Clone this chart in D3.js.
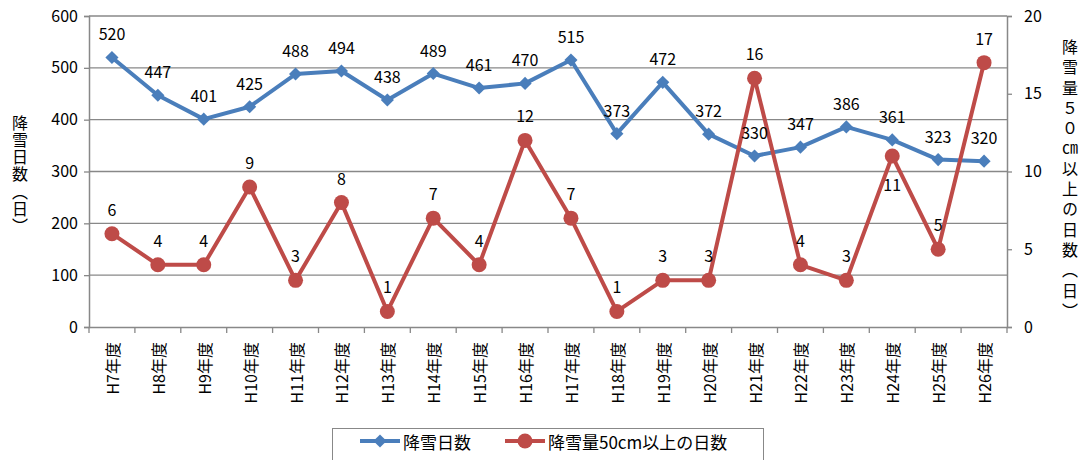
<!DOCTYPE html>
<html><head><meta charset="utf-8">
<script src="https://cdn.jsdelivr.net/npm/d3@7"></script>
<style>
body{margin:0;background:#fff;}
text{font-family:"Noto Sans CJK JP","Noto Sans",sans-serif;fill:#000;}
.vt{writing-mode:vertical-rl;text-orientation:upright;}
</style></head>
<body><svg id="c" width="1082" height="460"></svg>
<script>
const categories=["H7年度","H8年度","H9年度","H10年度","H11年度","H12年度","H13年度","H14年度","H15年度","H16年度","H17年度","H18年度","H19年度","H20年度","H21年度","H22年度","H23年度","H24年度","H25年度","H26年度"];
const snowDays=[520,447,401,425,488,494,438,489,461,470,515,373,472,372,330,347,386,361,323,320];
const heavyDays=[6,4,4,9,3,8,1,7,4,12,7,1,3,3,16,4,3,11,5,17];
const heavyLabelBelow=[false,false,false,false,false,false,false,false,false,false,false,false,false,false,false,false,false,true,false,false];
const leftTicks=[0,100,200,300,400,500,600];
const rightTicks=[0,5,10,15,20];
const seriesNames=["降雪日数","降雪量50cm以上の日数"];
const leftTitle="降雪日数（日）";
const rightTitle="降雪量５０㎝以上の日数（日）";

const blue="#4A7EBB", red="#BE4B48", grid="#888888";
const svg=d3.select("#c");
const L=89,R=1007,T=16,B=327;
const x=d3.scaleBand().domain(categories).range([L,R]);
const yL=d3.scaleLinear().domain([0,600]).range([B,T]);
const yR=d3.scaleLinear().domain([0,20]).range([B,T]);
const cx=d=>x(d)+x.bandwidth()/2;

// gridlines
svg.append("g").selectAll("line").data(leftTicks.filter(d=>d>0)).join("line")
 .attr("x1",L).attr("x2",R).attr("y1",d=>yL(d)).attr("y2",d=>yL(d))
 .attr("stroke",grid).attr("stroke-width",1.3);

// left axis
const gl=svg.append("g").attr("transform",`translate(${L},0)`)
 .call(d3.axisLeft(yL).tickValues(leftTicks).tickSize(5).tickPadding(6));
gl.selectAll("text").style("font-size","16px");
// right axis
const gr=svg.append("g").attr("transform",`translate(${R},0)`)
 .call(d3.axisRight(yR).tickValues(rightTicks).tickSize(5).tickPadding(12));
gr.selectAll("text").style("font-size","16px");
// bottom axis
const gb=svg.append("g").attr("transform",`translate(0,${B})`)
 .call(d3.axisBottom(x).tickSize(0).tickFormat(""));
[gl,gr,gb].forEach(g=>{g.selectAll("path.domain").attr("stroke",grid).attr("stroke-width",1.5);g.selectAll(".tick line").attr("stroke",grid).attr("stroke-width",1.3);g.selectAll("text").attr("fill","#000");});
// category boundary ticks
svg.append("g").selectAll("line").data(d3.range(categories.length+1)).join("line")
 .attr("x1",i=>L+i*x.step()).attr("x2",i=>L+i*x.step())
 .attr("y1",B).attr("y2",B+6).attr("stroke",grid).attr("stroke-width",1.3);
// category labels
svg.append("g").selectAll("text").data(categories).join("text")
 .attr("transform",d=>`translate(${cx(d)},342) rotate(-90)`)
 .attr("text-anchor","end").attr("dominant-baseline","central")
 .style("font-size","16px").text(d=>d);

// lines
const lineB=d3.line().x((d,i)=>cx(categories[i])).y(d=>yL(d));
const lineR=d3.line().x((d,i)=>cx(categories[i])).y(d=>yR(d));
svg.append("path").datum(snowDays).attr("d",lineB).attr("fill","none").attr("stroke",blue).attr("stroke-width",4).attr("stroke-linejoin","round");
const diamond=d3.symbol().type(d3.symbolDiamond2).size(110);
svg.append("g").selectAll("path").data(snowDays).join("path")
 .attr("d",diamond).attr("transform",(d,i)=>`translate(${cx(categories[i])},${yL(d)})`).attr("fill",blue);
svg.append("path").datum(heavyDays).attr("d",lineR).attr("fill","none").attr("stroke",red).attr("stroke-width",4).attr("stroke-linejoin","round");
svg.append("g").selectAll("circle").data(heavyDays).join("circle")
 .attr("cx",(d,i)=>cx(categories[i])).attr("cy",d=>yR(d)).attr("r",7.5).attr("fill",red);

// data labels
svg.append("g").selectAll("text").data(snowDays).join("text")
 .attr("x",(d,i)=>cx(categories[i])).attr("y",d=>yL(d)-24)
 .attr("text-anchor","middle").attr("dominant-baseline","central").style("font-size","16px").text(d=>d);
svg.append("g").selectAll("text").data(heavyDays).join("text")
 .attr("x",(d,i)=>cx(categories[i])).attr("y",(d,i)=>yR(d)+(heavyLabelBelow[i]?28:-25))
 .attr("text-anchor","middle").attr("dominant-baseline","central").style("font-size","16px").text(d=>d);

// axis titles
svg.append("text").attr("class","vt").attr("x",20).attr("y",175).attr("text-anchor","middle")
 .style("font-size","16px").style("letter-spacing","1.3px").text(leftTitle);
svg.append("text").attr("class","vt").attr("x",1070).attr("y",181).attr("text-anchor","middle")
 .style("font-size","16px").style("letter-spacing","4.3px").text(rightTitle);

// legend
svg.append("rect").attr("x",332.5).attr("y",428.5).attr("width",431).attr("height",40).attr("fill","none").attr("stroke",grid).attr("stroke-width",1);
const lg=svg.append("g");
lg.append("line").attr("x1",360).attr("x2",400).attr("y1",441).attr("y2",441).attr("stroke",blue).attr("stroke-width",4);
lg.append("path").attr("d",diamond).attr("transform","translate(380,441)").attr("fill",blue);
lg.append("text").attr("x",403).attr("y",441).attr("dominant-baseline","central").style("font-size","17px").text(seriesNames[0]);
lg.append("line").attr("x1",505).attr("x2",545).attr("y1",441).attr("y2",441).attr("stroke",red).attr("stroke-width",4);
lg.append("circle").attr("cx",525).attr("cy",441).attr("r",7.5).attr("fill",red);
lg.append("text").attr("x",548).attr("y",441).attr("dominant-baseline","central").style("font-size","17px").text(seriesNames[1]);
</script></body></html>
